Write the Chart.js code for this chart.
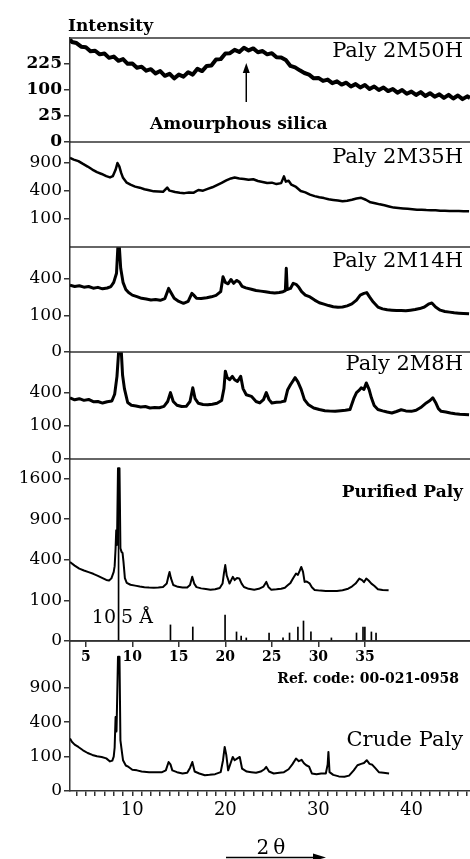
<!DOCTYPE html>
<html>
<head>
<meta charset="utf-8">
<script src="https://cdn.jsdelivr.net/npm/chart.js@4.4.1/dist/chart.umd.min.js"></script>
<style>
  html, body { margin: 0; padding: 0; background: #fff; }
  #wrap { position: relative; width: 470px; height: 859px; overflow: hidden; background: #fff; }
  #wrap canvas { position: absolute; left: 0; }
</style>
</head>
<body>
<div id="wrap"></div>
<script>
// 2θ range shared by every panel
const thetaMin = 3.3, thetaMax = 46.3;

// traces: [2θ, intensity]
const paly50 = [[3.3,390],[3.5,370],[4.0,362],[4.5,336],[5.0,332],[5.5,304],[6.0,308],[6.5,284],[7.0,290],[7.5,262],[8.0,270],[8.5,244],[9.0,254],[9.5,226],[10.0,228],[10.5,204],[11.0,210],[11.5,188],[12.0,196],[12.5,174],[13.0,186],[13.5,162],[14.0,172],[14.5,150],[15.0,168],[15.5,158],[16.0,180],[16.5,168],[17.0,198],[17.5,186],[18.0,214],[18.5,216],[19.0,252],[19.5,254],[20.0,290],[20.5,292],[21.0,314],[21.5,300],[22.0,328],[22.5,310],[23.0,324],[23.5,298],[24.0,306],[24.5,284],[25.0,292],[25.5,266],[26.0,264],[26.5,248],[27.0,214],[27.5,206],[28.0,190],[28.5,176],[29.0,168],[29.5,150],[30.0,152],[30.5,138],[31.0,144],[31.5,128],[32.0,136],[32.5,122],[33.0,130],[33.5,114],[34.0,124],[34.5,110],[35.0,120],[35.5,104],[36.0,114],[36.5,100],[37.0,110],[37.5,96],[38.0,104],[38.5,90],[39.0,100],[39.5,86],[40.0,94],[40.5,82],[41.0,92],[41.5,78],[42.0,88],[42.5,76],[43.0,84],[43.5,72],[44.0,82],[44.5,70],[45.0,80],[45.5,68],[46.0,77],[46.3,72]];

const paly35 = [[3.3,1010],[3.7,975],[4.2,940],[4.7,880],[5.2,825],[5.7,765],[6.2,715],[6.7,680],[7.2,640],[7.6,618],[7.9,640],[8.2,760],[8.4,900],[8.6,830],[8.8,700],[9.0,610],[9.4,527],[9.8,495],[10.3,465],[10.8,449],[11.3,425],[11.8,410],[12.3,395],[12.8,392],[13.3,388],[13.75,450],[14.0,405],[14.6,385],[15.1,375],[15.6,370],[16.1,380],[16.6,376],[17.1,415],[17.6,405],[18.1,430],[18.6,455],[19.1,490],[19.6,525],[20.1,565],[20.6,600],[21.0,615],[21.5,600],[22.0,590],[22.5,575],[23.0,585],[23.5,555],[24.0,540],[24.5,522],[25.0,528],[25.5,505],[26.0,520],[26.3,636],[26.5,545],[26.8,560],[27.1,495],[27.6,460],[28.1,400],[28.6,380],[29.1,350],[29.6,330],[30.1,315],[30.6,305],[31.1,290],[31.6,282],[32.1,275],[32.6,266],[33.1,272],[33.6,285],[34.1,300],[34.6,308],[35.1,285],[35.6,255],[36.1,245],[36.6,232],[37.1,222],[37.6,210],[38.1,198],[38.6,194],[39.1,190],[39.6,186],[40.1,182],[40.6,178],[41.1,178],[41.6,174],[42.1,172],[42.6,172],[43.1,168],[43.6,168],[44.1,166],[44.6,165],[45.1,165],[45.6,163],[46.2,162]];

const paly14 = [[3.3,330],[3.8,318],[4.3,326],[4.8,312],[5.3,318],[5.8,302],[6.3,310],[6.8,296],[7.3,304],[7.7,318],[8.0,360],[8.3,460],[8.45,830],[8.6,830],[8.75,520],[9.0,360],[9.3,290],[9.6,262],[10.0,240],[10.5,228],[11.0,214],[11.5,208],[12.0,200],[12.5,204],[13.0,198],[13.5,212],[13.9,300],[14.1,270],[14.5,215],[15.0,190],[15.5,176],[16.0,190],[16.4,255],[16.6,240],[16.9,215],[17.4,212],[18.0,218],[18.5,226],[19.0,238],[19.5,270],[19.75,420],[20.0,360],[20.3,345],[20.6,390],[20.9,350],[21.2,380],[21.5,364],[21.8,320],[22.2,305],[22.8,292],[23.3,280],[23.8,275],[24.3,270],[24.8,262],[25.3,258],[25.8,262],[26.2,270],[26.45,280],[26.55,520],[26.65,290],[27.0,300],[27.3,350],[27.6,340],[27.9,310],[28.2,270],[28.6,240],[29.1,225],[29.6,200],[30.1,180],[30.6,170],[31.1,160],[31.6,152],[32.1,148],[32.6,150],[33.1,158],[33.6,172],[34.1,200],[34.5,240],[34.9,255],[35.2,262],[35.5,225],[35.9,185],[36.4,150],[36.9,138],[37.4,132],[37.9,130],[38.4,128],[38.9,128],[39.4,126],[39.9,130],[40.4,134],[40.9,140],[41.4,150],[41.9,172],[42.2,178],[42.6,150],[43.1,130],[43.6,122],[44.1,118],[44.6,114],[45.1,112],[45.6,110],[46.2,108]];

const paly8 = [[3.3,340],[3.8,318],[4.3,330],[4.8,312],[5.3,322],[5.8,298],[6.3,300],[6.8,284],[7.3,298],[7.8,305],[8.1,380],[8.35,620],[8.55,1100],[8.8,1100],[8.95,640],[9.15,450],[9.5,290],[9.9,262],[10.4,255],[10.9,246],[11.4,250],[11.9,236],[12.4,240],[12.9,238],[13.4,252],[13.8,300],[14.1,400],[14.4,300],[14.8,262],[15.3,250],[15.8,252],[16.2,300],[16.5,460],[16.75,330],[17.1,282],[17.6,270],[18.1,266],[18.6,272],[19.1,282],[19.6,310],[19.85,450],[20.0,700],[20.2,600],[20.45,570],[20.75,620],[21.0,570],[21.3,545],[21.65,620],[21.9,450],[22.25,375],[22.8,356],[23.3,300],[23.7,285],[24.1,320],[24.4,400],[24.7,320],[25.0,285],[25.5,292],[26.0,296],[26.4,305],[26.7,436],[27.0,500],[27.3,560],[27.5,600],[27.8,540],[28.15,440],[28.5,320],[28.9,270],[29.5,236],[30.1,222],[30.7,212],[31.3,208],[31.8,206],[32.4,212],[32.9,215],[33.4,222],[33.8,330],[34.1,400],[34.4,430],[34.6,460],[34.9,440],[35.15,525],[35.45,440],[35.7,340],[36.0,260],[36.4,222],[36.9,210],[37.4,200],[37.9,192],[38.4,205],[38.9,220],[39.4,210],[40.0,206],[40.5,215],[41.0,240],[41.6,285],[42.0,310],[42.3,340],[42.6,290],[42.9,230],[43.2,206],[43.7,200],[44.2,192],[44.7,186],[45.2,182],[45.7,180],[46.2,178]];

const purified = [[3.3,379],[3.8,345],[4.3,318],[4.8,302],[5.3,288],[5.8,274],[6.3,258],[6.8,240],[7.2,226],[7.5,222],[7.75,238],[8.0,290],[8.1,340],[8.2,520],[8.27,744],[8.35,560],[8.46,1810],[8.62,1810],[8.72,520],[8.85,480],[8.95,470],[9.05,380],[9.2,240],[9.4,205],[9.8,192],[10.3,186],[10.8,180],[11.3,176],[11.8,173],[12.3,172],[12.8,174],[13.3,177],[13.7,200],[13.9,260],[14.0,289],[14.15,240],[14.4,190],[14.9,178],[15.4,174],[15.9,173],[16.2,190],[16.44,250],[16.65,200],[16.9,176],[17.4,168],[17.9,164],[18.4,160],[18.9,162],[19.4,170],[19.7,200],[19.85,280],[19.99,350],[20.15,260],[20.45,200],[20.8,250],[21.0,225],[21.25,240],[21.5,238],[21.75,200],[22.0,177],[22.5,165],[23.1,160],[23.6,165],[24.1,180],[24.4,212],[24.65,175],[24.94,160],[25.5,162],[26.0,166],[26.4,172],[26.7,188],[27.0,205],[27.3,240],[27.6,276],[27.8,265],[28.0,300],[28.16,333],[28.35,290],[28.52,212],[28.75,215],[29.05,202],[29.3,175],[29.6,158],[30.2,154],[30.8,152],[31.4,152],[32.0,152],[32.6,156],[33.2,166],[33.6,180],[34.0,200],[34.4,236],[34.7,225],[34.9,210],[35.15,237],[35.4,222],[35.7,200],[36.0,185],[36.4,162],[36.9,158],[37.55,156]];

const crude = [[3.3,232],[3.5,205],[3.8,182],[4.2,164],[4.7,140],[5.2,122],[5.7,110],[6.2,102],[6.7,98],[7.2,90],[7.6,74],[7.85,78],[8.0,100],[8.1,160],[8.2,463],[8.3,300],[8.46,1520],[8.62,1520],[8.72,217],[8.9,120],[9.0,80],[9.3,55],[9.6,49],[10.0,38],[10.5,36],[11.0,32],[11.8,30],[12.5,30],[13.2,30],[13.6,36],[13.9,71],[14.1,60],[14.3,36],[14.8,30],[15.4,26],[15.9,28],[16.2,45],[16.45,71],[16.7,32],[17.2,26],[17.8,21],[18.3,22],[18.9,24],[19.5,30],[19.75,80],[19.93,164],[20.1,110],[20.3,36],[20.6,70],[20.8,98],[21.0,80],[21.3,90],[21.55,98],[21.8,42],[22.3,32],[22.8,30],[23.3,28],[23.8,32],[24.2,40],[24.4,49],[24.7,32],[25.2,26],[25.8,28],[26.3,30],[26.8,40],[27.2,60],[27.6,89],[27.9,75],[28.2,82],[28.45,65],[28.7,56],[29.0,50],[29.3,26],[29.8,24],[30.3,26],[30.8,26],[31.0,60],[31.08,129],[31.2,30],[31.6,22],[32.2,18],[32.8,17],[33.3,20],[33.8,36],[34.2,56],[34.6,62],[34.9,66],[35.2,80],[35.5,62],[35.8,58],[36.1,45],[36.5,30],[37.0,28],[37.6,26]];

// reference pattern 00-021-0958 (relative intensity, %)
const refAngles = [8.52, 14.1, 16.5, 19.97, 21.2, 21.7, 22.25, 24.7, 26.2, 26.9, 27.8, 28.4, 29.2, 31.4, 34.1, 34.8, 35.0, 35.7, 36.2];
const refIntensity = [100, 9.4, 8.2, 15.2, 5.3, 2.9, 1.8, 4.7, 1.8, 4.7, 8.2, 11.7, 5.3, 1.8, 4.7, 8.2, 8.2, 5.3, 4.7];

// tick labels
const ticks50 = [0, 25, 100, 225];
const ticks35 = [100, 400, 900];
const ticks14 = [0, 100, 400];
const ticks8 = [0, 100, 400];
const ticksPurified = [0, 100, 400, 900, 1600];
const ticksCrude = [0, 100, 400, 900];
const refTicks = [5, 10, 15, 20, 25, 30, 35];
const bottomLabels = [10, 20, 30, 40];

const FONT = 'DejaVu Serif';
const wrap = document.getElementById('wrap');

// square-root intensity axis
class SqrtScale extends Chart.LinearScale {
  getPixelForValue(value) {
    const a = Math.sqrt(this.min), b = Math.sqrt(this.max);
    return this.getPixelForDecimal((Math.sqrt(Math.max(value, 0)) - a) / (b - a));
  }
  getValueForPixel(pixel) {
    const a = Math.sqrt(this.min), b = Math.sqrt(this.max);
    const s = a + this.getDecimalForPixel(pixel) * (b - a);
    return s * s;
  }
}
SqrtScale.id = 'sqrt';
SqrtScale.defaults = Chart.LinearScale.defaults;
Chart.register(SqrtScale);

function yAxis(max, vals, bold) {
  return {
    type: 'sqrt', position: 'left', min: 0, max: max,
    afterBuildTicks: s => { s.ticks = vals.map(v => ({ value: v })); },
    afterFit: s => { s.width = 70; s.paddingTop = 0; s.paddingBottom = 0; },
    ticks: { color: '#000', padding: 2, font: { family: FONT, size: 17, weight: bold ? 'bold' : 'normal' }, callback: v => String(v) },
    grid: { display: true, drawOnChartArea: false, tickLength: 6, color: '#333', lineWidth: 1.5 },
    border: { display: true, color: '#333', width: 1.5 }
  };
}

function hiddenX() {
  return { type: 'linear', min: thetaMin, max: thetaMax, display: false, offset: false };
}

function trace(points, width) {
  return {
    type: 'line', data: points.map(p => ({ x: p[0], y: p[1] })),
    borderColor: '#000', borderWidth: width, borderJoinStyle: 'round',
    pointRadius: 0, tension: 0, fill: false, yAxisID: 'y'
  };
}

function decor(cfg) {
  return {
    id: 'decor',
    afterDraw(chart) {
      const { ctx, chartArea: a } = chart;
      const oy = cfg.canvasTop;
      ctx.save();
      ctx.strokeStyle = '#333';
      ctx.lineWidth = 1.5;
      ctx.beginPath();
      ctx.moveTo(a.left, a.top);
      ctx.lineTo(a.right, a.top);
      ctx.stroke();
      ctx.fillStyle = '#000';
      ctx.textAlign = 'right';
      ctx.font = cfg.labelFont;
      ctx.fillText(cfg.label, 463, cfg.labelY - oy);
      if (cfg.extra) cfg.extra(ctx, chart, oy);
      ctx.restore();
    }
  };
}

function panel(cfg) {
  const c = document.createElement('canvas');
  c.width = 470;
  c.height = cfg.canvasBottom - cfg.canvasTop;
  c.style.top = cfg.canvasTop + 'px';
  wrap.appendChild(c);
  return new Chart(c, {
    type: 'line',
    data: { datasets: cfg.datasets },
    options: {
      responsive: false, animation: false, events: [],
      layout: { padding: { top: cfg.top - cfg.canvasTop, bottom: cfg.canvasBottom - cfg.bottom - (cfg.xHeight || 0), left: 0, right: 0 } },
      plugins: { legend: { display: false }, tooltip: { enabled: false } },
      scales: cfg.scales
    },
    plugins: [decor(cfg)]
  });
}

const regular21 = 'normal 21px ' + FONT;

// Paly 2M50H
panel({
  canvasTop: 0, top: 38, bottom: 142, canvasBottom: 154,
  label: 'Paly 2M50H', labelY: 57, labelFont: regular21,
  datasets: [trace(paly50, 4)],
  scales: { x: hiddenX(), y: yAxis(400, ticks50, true) },
  extra(ctx, chart, oy) {
    ctx.textAlign = 'left';
    ctx.font = 'bold 17px ' + FONT;
    ctx.fillText('Intensity', 68, 31 - oy);
    ctx.fillText('Amourphous silica', 150, 129 - oy);
    const ax = chart.scales.x.getPixelForValue(22.25);
    ctx.strokeStyle = '#000';
    ctx.lineWidth = 1.5;
    ctx.beginPath();
    ctx.moveTo(ax, 102 - oy);
    ctx.lineTo(ax, 70 - oy);
    ctx.stroke();
    ctx.beginPath();
    ctx.moveTo(ax, 63 - oy);
    ctx.lineTo(ax - 3.5, 73 - oy);
    ctx.lineTo(ax + 3.5, 73 - oy);
    ctx.closePath();
    ctx.fill();
  }
});

// Paly 2M35H
panel({
  canvasTop: 130, top: 142, bottom: 247, canvasBottom: 259,
  label: 'Paly 2M35H', labelY: 163, labelFont: regular21,
  datasets: [trace(paly35, 2.5)],
  scales: { x: hiddenX(), y: yAxis(1406, ticks35, false) }
});

// Paly 2M14H
panel({
  canvasTop: 235, top: 247, bottom: 352, canvasBottom: 364,
  label: 'Paly 2M14H', labelY: 267, labelFont: regular21,
  datasets: [trace(paly14, 3)],
  scales: { x: hiddenX(), y: yAxis(818, ticks14, false) }
});

// Paly 2M8H
panel({
  canvasTop: 340, top: 352, bottom: 459, canvasBottom: 471,
  label: 'Paly 2M8H', labelY: 370, labelFont: regular21,
  datasets: [trace(paly8, 3)],
  scales: { x: hiddenX(), y: yAxis(1039, ticks8, false) }
});

// Purified Paly + reference sticks
panel({
  canvasTop: 447, top: 459, bottom: 641, xHeight: 28, canvasBottom: 669,
  label: 'Purified Paly', labelY: 497, labelFont: 'bold 17px ' + FONT,
  datasets: [
    trace(purified, 2),
    { type: 'bar', data: refAngles.map((a, i) => ({ x: a, y: refIntensity[i] })), backgroundColor: '#000', barThickness: 1, yAxisID: 'yRef' }
  ],
  scales: {
    x: {
      type: 'linear', min: thetaMin, max: thetaMax, position: 'bottom', offset: false,
      afterBuildTicks: s => { s.ticks = refTicks.map(v => ({ value: v })); },
      afterFit: s => { s.height = 28; s.paddingLeft = 0; s.paddingRight = 0; },
      ticks: { color: '#000', padding: 2, autoSkip: false, maxRotation: 0, font: { family: FONT, size: 14, weight: 'bold' } },
      grid: { display: true, offset: false, drawOnChartArea: false, tickLength: 6, color: '#333', lineWidth: 1.5 },
      border: { display: true, color: '#333', width: 1.5 }
    },
    y: yAxis(2010, ticksPurified, false),
    yRef: { type: 'linear', display: false, min: 0, max: 106.4 }
  },
  extra(ctx, chart, oy) {
    ctx.font = 'normal 19px ' + FONT;
    ctx.textAlign = 'right';
    ctx.fillText('10', 116, 623 - oy);
    ctx.textAlign = 'left';
    ctx.fillText('5 Å', 121, 623 - oy);
  }
});

// Crude Paly + bottom 2θ axis
const minorTicks = [];
for (let t = 4; t <= 46; t++) minorTicks.push(t);

panel({
  canvasTop: 629, top: 641, bottom: 791, xHeight: 32, canvasBottom: 859,
  label: 'Crude Paly', labelY: 746, labelFont: regular21,
  datasets: [trace(crude, 2)],
  scales: {
    x: {
      type: 'linear', min: thetaMin, max: thetaMax, position: 'bottom', offset: false,
      afterBuildTicks: s => { s.ticks = minorTicks.map(v => ({ value: v })); },
      afterFit: s => { s.height = 32; s.paddingLeft = 0; s.paddingRight = 0; },
      ticks: { color: '#000', padding: 4, autoSkip: false, maxRotation: 0, font: { family: FONT, size: 18 },
        callback: v => bottomLabels.includes(v) ? String(v) : '' },
      grid: { display: true, drawOnChartArea: false, tickLength: 5, color: '#333', lineWidth: 1.5 },
      border: { display: true, color: '#333', width: 1.5 }
    },
    y: yAxis(1901, ticksCrude, false)
  },
  extra(ctx, chart, oy) {
    ctx.textAlign = 'right';
    ctx.font = 'bold 14px ' + FONT;
    ctx.fillText('Ref. code: 00-021-0958', 459, 683 - oy);
    ctx.textAlign = 'center';
    ctx.font = 'normal 20px ' + FONT;
    ctx.letterSpacing = '4px';
    ctx.fillText('2θ', 273, 854 - oy);
    ctx.letterSpacing = '0px';
    ctx.strokeStyle = '#000';
    ctx.lineWidth = 1.5;
    ctx.beginPath();
    ctx.moveTo(226, 857.5 - oy);
    ctx.lineTo(318, 857.5 - oy);
    ctx.stroke();
    ctx.beginPath();
    ctx.moveTo(326, 857.5 - oy);
    ctx.lineTo(313, 853.5 - oy);
    ctx.lineTo(313, 861 - oy);
    ctx.closePath();
    ctx.fill();
  }
});
</script>
</body>
</html>
